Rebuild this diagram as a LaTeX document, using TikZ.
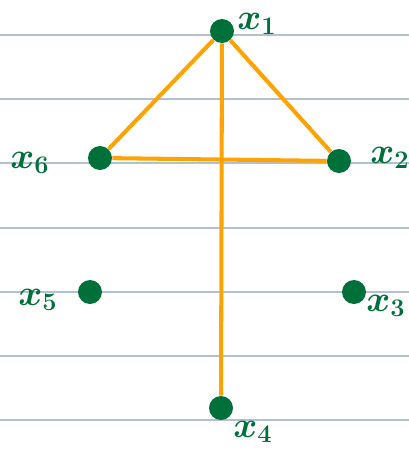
\documentclass[tikz,border=0pt]{standalone}
\usepackage{amsmath}
\usepackage{tikz}
\usetikzlibrary{positioning}
\definecolor{inkgreen}{RGB}{0,112,58}
\definecolor{penorange}{RGB}{255,163,0}
\definecolor{ruleblue}{RGB}{178,192,214}
\tikzset{
  vertex/.style={
    circle, fill=inkgreen, inner sep=0pt, minimum size=0.48cm
  },
  vlabel/.style={
    text=inkgreen, font=\huge\boldmath, inner sep=0pt
  },
  edge/.style={draw=penorange, line width=2.3pt},
  ruling/.style={draw=ruleblue, line width=0.8pt}
}

\begin{document}
\begin{tikzpicture}[x=0.02cm, y=-0.02cm]
  \useasboundingbox (0,0) rectangle (409,451);
  % ruled paper
  \foreach \ry in {35,99,163,228,292,356,420}
    \draw[ruling] (0,\ry) -- (409,\ry);

  \node[vertex] (x1) at (222,31) {};
  \node[vertex] (x2) at (339,161) {};
  \node[vertex] (x3) at (354,292) {};
  \node[vertex] (x4) at (221,408) {};
  \node[vertex] (x5) at (90,292) {};
  \node[vertex] (x6) at (100,158) {};

  \node[vlabel] (l1) at (257,24) {$x_1$};
  \node[vlabel] (l2) at (390,158) {$x_2$};
  \node[vlabel] (l3) at (386,306) {$x_3$};
  \node[vlabel] (l4) at (253,432) {$x_4$};
  \node[vlabel] (l5) at (38,300) {$x_5$};
  \node[vlabel] (l6) at (30,163) {$x_6$};

  \draw[edge] (x1) -- (x6);
  \draw[edge] (x1) -- (x2);
  \draw[edge] (x6) -- (x2);
  \draw[edge] (x1) -- (x4);
\end{tikzpicture}
\end{document}
